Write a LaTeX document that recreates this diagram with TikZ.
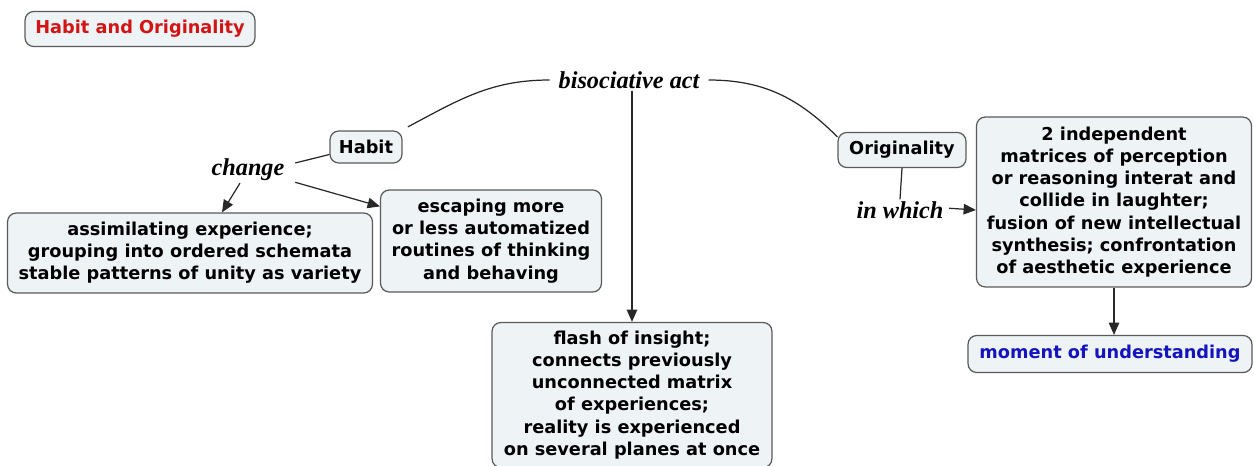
\documentclass[tikz,border=0pt]{standalone}
\usepackage{fontspec}
\setsansfont{DejaVu Sans}
\newfontfamily\phrasefont{Liberation Serif}
\usetikzlibrary{arrows.meta,positioning}

\begin{document}
\begin{tikzpicture}[x=0.02cm, y=-0.02cm,
    box/.style={draw=boxline, fill=boxfill, rounded corners=5pt, line width=0.7pt,
        align=center, font=\sffamily\bfseries\fontsize{10.1}{12.6}\selectfont, text=black, inner sep=2pt},
    phrase/.style={font=\phrasefont\fontsize{13.8}{15}\selectfont\bfseries\itshape, inner sep=1pt},
    link/.style={draw=linkgray, line width=0.7pt},
    arr/.style={link, -{Triangle[length=7pt,width=6pt]}}]
        \definecolor{boxfill}{RGB}{238,243,246}
        \definecolor{boxline}{RGB}{90,90,90}
        \definecolor{linkgray}{RGB}{40,40,40}
        \definecolor{titlered}{RGB}{210,20,20}
        \definecolor{moreblue}{RGB}{20,20,190}

        \useasboundingbox (0,0) rectangle (1254,466);

        % Boxes
        \node[box, text=titlered, minimum width=4.6cm, minimum height=0.7cm] (title) at (140,29) {Habit and Originality};
        \node[box, minimum width=1.44cm, minimum height=0.64cm] (habit) at (366,147) {Habit};
        \node[box, minimum width=7.3cm, minimum height=1.6cm] (assim) at (190,253) {assimilating experience;\\grouping into ordered schemata\\stable patterns of unity as variety};
        \node[box, minimum width=4.42cm, minimum height=2.04cm] (escape) at (491,241) {escaping more\\or less automatized\\routines of thinking\\and behaving};
        \node[box, minimum width=5.6cm, minimum height=2.9cm] (flash) at (632,395) {flash of insight;\\connects previously\\unconnected matrix\\of experiences;\\reality is experienced\\on several planes at once};
        \node[box, minimum width=2.56cm, minimum height=0.7cm] (orig) at (902,150) {Originality};
        \node[box, minimum width=5.5cm, minimum height=3.4cm] (matrices) at (1114,202) {2 independent\\matrices of perception\\or reasoning interat and\\collide in laughter;\\fusion of new intellectual\\synthesis; confrontation\\of aesthetic experience};
        \node[box, text=moreblue, minimum width=5.68cm, minimum height=0.74cm] (moment) at (1110,354) {moment of understanding};

        % Linking phrases
        \node[phrase] (bisoc) at (629,80) {bisociative act};
        \node[phrase] (change) at (248,170) {change};
        \node[phrase] (inwhich) at (900,210) {in which};

        % Connectors
        \draw[link] ([xshift=3pt,yshift=2pt]habit.north east) to[out=28,in=180] ([xshift=-4pt]bisoc.west);
        \draw[link] ([xshift=4pt]bisoc.east) to[out=0,in=135] ([yshift=-0.1cm]orig.north west);
        \draw[arr] (bisoc.south -| flash.north) -- (flash.north);
        \draw[link] ([yshift=-0.15cm]habit.west) -- ([xshift=5pt,yshift=4pt]change.east);
        \draw[arr] ([xshift=-0.16cm]change.south) -- ([xshift=0.64cm]assim.north);
        \draw[arr] ([xshift=5pt,yshift=-7pt]change.east) -- ([yshift=-0.34cm]escape.north west);
        \draw[link] (orig.south) -- (inwhich.north);
        \draw[arr] ([xshift=2pt,yshift=1pt]inwhich.east) -- (inwhich.east -| matrices.west);
        \draw[arr] (matrices.south) -- (matrices.south |- moment.north);
    \end{tikzpicture}
\end{document}
